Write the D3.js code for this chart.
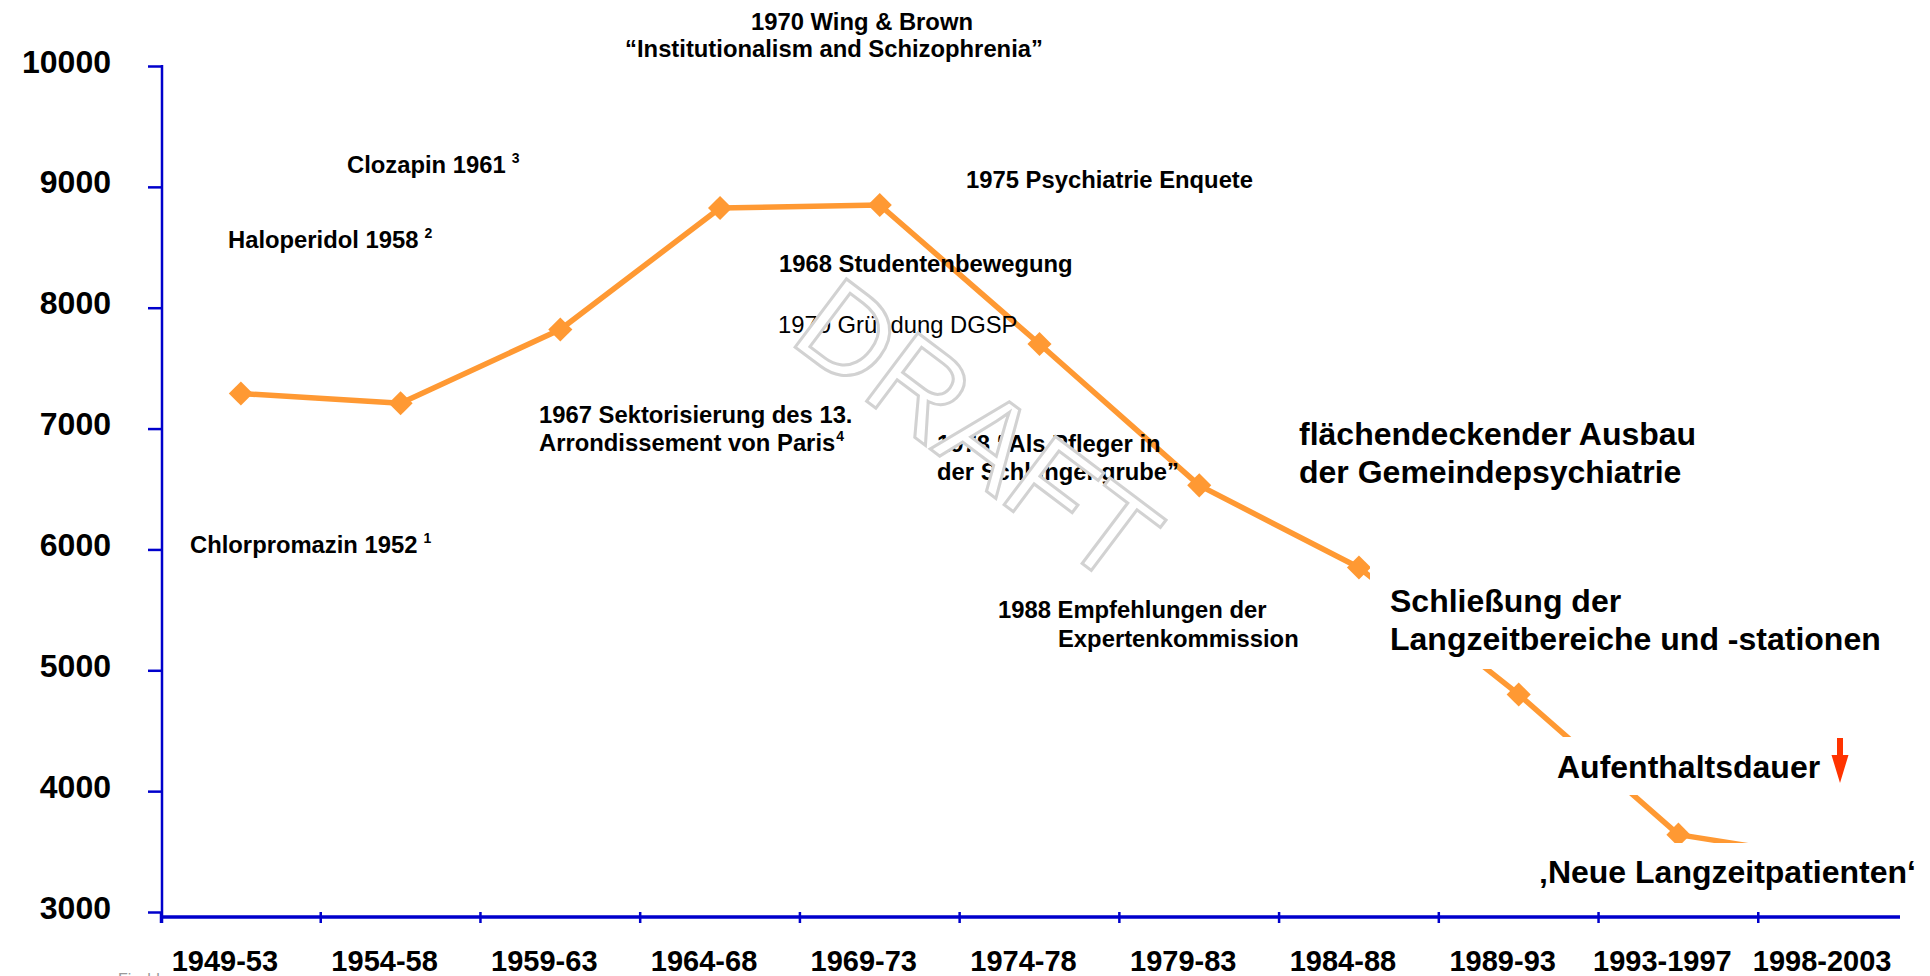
<!DOCTYPE html>
<html>
<head>
<meta charset="utf-8">
<script src="https://cdn.jsdelivr.net/npm/d3@7"></script>
<style>
  body { margin: 0; background: #fff; }
  svg { display: block; font-family: "Liberation Sans", Arial, sans-serif; }
</style>
</head>
<body>
<div id="chart"></div>
<script>
// data
var periods = ["1949-53", "1954-58", "1959-63", "1964-68", "1969-73", "1974-78",
               "1979-83", "1984-88", "1989-93", "1993-1997", "1998-2003"];
var patients = [7290, 7210, 7820, 8825, 8850, 7700, 6530, 5850, 4800, 3640, 3430];
var yTicks = [3000, 4000, 5000, 6000, 7000, 8000, 9000, 10000];

// annotation texts (small)
var notes = [
    { lines: ["1970 Wing & Brown"], x: 862, y: 30, anchor: "middle" },
    { lines: ["\u201CInstitutionalism and Schizophrenia\u201D"], x: 834, y: 57, anchor: "middle" },
    { lines: ["Clozapin 1961"], sup: "3", supGap: true, x: 347, y: 173 },
    { lines: ["Haloperidol 1958"], sup: "2", supGap: true, x: 228, y: 248 },
    { lines: ["Chlorpromazin 1952"], sup: "1", supGap: true, x: 190, y: 553 },
    { lines: ["1967 Sektorisierung des 13.", "Arrondissement von Paris"], sup: "4", x: 539, y: 423 },
    { lines: ["1968 Studentenbewegung"], x: 779, y: 272 },
    { lines: ["1970 Gr\u00FCndung DGSP"], x: 778, y: 333, weight: "normal" },
    { lines: ["1975 Psychiatrie Enquete"], x: 966, y: 188 },
    { lines: ["1978 \u201CAls Pfleger in", "der Schlangengrube\u201D"], x: 937, y: 452 },
    { lines: ["1988 Empfehlungen der"], x: 998, y: 618 },
    { lines: ["Expertenkommission"], x: 1058, y: 647 }
];

// big texts, some sit on white boxes that hide the line
var bigNotes = [
    { lines: ["fl\u00E4chendeckender Ausbau", "der Gemeindepsychiatrie"], x: 1299, y: 445 },
    { lines: ["Schlie\u00DFung der", "Langzeitbereiche und -stationen"], x: 1390, y: 612,
      box: [1370, 540, 540, 129] },
    { lines: ["Aufenthaltsdauer"], x: 1557, y: 778, box: [1545, 737, 290, 58] },
    { lines: ["\u201ANeue Langzeitpatienten\u2018"], x: 1539, y: 883, box: [1530, 843, 395, 55] }
];

var width = 1930, height = 976;
var axisBlue = "#0000cc";
var orange = "#ff9933";

var svg = d3.select("#chart").append("svg")
    .attr("width", width)
    .attr("height", height);

var x = d3.scaleBand().domain(periods).range([161, 1918]);
var y = d3.scaleLinear().domain([3000, 10000]).range([912, 66]);
var xAxisY = 917;

// y axis
var gy = svg.append("g")
    .attr("transform", "translate(162,0)")
    .call(d3.axisLeft(y).tickValues(yTicks).tickSize(14).tickPadding(37).tickFormat(d3.format("d")));
gy.select(".domain").remove();
gy.selectAll(".tick line").attr("stroke", axisBlue).attr("stroke-width", 2.5);
gy.selectAll(".tick text")
    .attr("font-family", "Liberation Sans, Arial, sans-serif")
    .attr("font-size", 32)
    .attr("font-weight", "bold")
    .attr("fill", "#000")
    .attr("dy", 6);
gy.append("line")
    .attr("x1", 0).attr("x2", 0)
    .attr("y1", y(10000) - 1).attr("y2", xAxisY + 6)
    .attr("stroke", axisBlue).attr("stroke-width", 2.5);

// x axis: labels from the band scale, ticks on the band edges
var gx = svg.append("g")
    .attr("transform", "translate(0," + xAxisY + ")")
    .call(d3.axisBottom(x).tickSize(0).tickPadding(33));
gx.select(".domain").remove();
gx.selectAll(".tick text")
    .attr("font-family", "Liberation Sans, Arial, sans-serif")
    .attr("font-size", 29)
    .attr("font-weight", "bold")
    .attr("fill", "#000")
    .attr("dx", -16);
gx.append("line")
    .attr("x1", 161).attr("x2", 1900)
    .attr("y1", 0).attr("y2", 0)
    .attr("stroke", axisBlue).attr("stroke-width", 3.5);
gx.selectAll(".edge")
    .data(periods)
    .enter()
    .append("line")
    .attr("class", "edge")
    .attr("x1", function(d) { return x(d); })
    .attr("x2", function(d) { return x(d); })
    .attr("y1", -5).attr("y2", 6)
    .attr("stroke", axisBlue).attr("stroke-width", 2.5);

// the series
function px(i) { return x(periods[i]) + x.bandwidth() / 2; }

var line = d3.line()
    .x(function(d, i) { return px(i); })
    .y(function(d) { return y(d); });

svg.append("path")
    .datum(patients)
    .attr("d", line)
    .attr("fill", "none")
    .attr("stroke", orange)
    .attr("stroke-width", 5.5)
    .attr("stroke-linejoin", "round");

svg.selectAll(".marker")
    .data(patients)
    .enter()
    .append("path")
    .attr("class", "marker")
    .attr("d", d3.symbol(d3.symbolSquare, 290))
    .attr("transform", function(d, i) { return "translate(" + px(i) + "," + y(d) + ") rotate(45)"; })
    .attr("fill", orange);

// helper to write multi-line text
function writeNote(n, size) {
    var t = svg.append("text")
        .attr("x", n.x)
        .attr("y", n.y)
        .attr("font-size", size)
        .attr("font-weight", n.weight || "bold")
        .attr("fill", "#000")
        .attr("text-anchor", n.anchor || "start");
    n.lines.forEach(function(l, i) {
        t.append("tspan")
            .attr("x", n.x)
            .attr("dy", i === 0 ? 0 : size * 1.18)
            .text(l);
    });
    if (n.sup) {
        t.append("tspan")
            .attr("font-size", 14)
            .attr("dy", -10)
            .attr("dx", n.supGap ? 6 : 1)
            .text(n.sup);
    }
}

notes.forEach(function(n) { writeNote(n, 23.8); });

// DRAFT watermark
svg.append("text")
    .attr("transform", "translate(787,341) rotate(37)")
    .attr("font-size", 124)
    .attr("font-weight", "normal")
    .attr("fill", "#fff")
    .attr("stroke", "#d2d2d2")
    .attr("stroke-width", 3)
    .text("DRAFT");

// white boxes and the big texts
bigNotes.forEach(function(n) {
    if (n.box) {
        svg.append("rect")
            .attr("x", n.box[0]).attr("y", n.box[1])
            .attr("width", n.box[2]).attr("height", n.box[3])
            .attr("fill", "#fff");
    }
    writeNote(n, 32);
});

// red arrow next to Aufenthaltsdauer
svg.append("path")
    .attr("d", "M1837,738 L1843,738 L1843,755 L1848.5,755 L1840,783 L1831.5,755 L1837,755 Z")
    .attr("fill", "#ff3300");

// cut-off source note at the bottom
svg.append("text")
    .attr("x", 118)
    .attr("y", 985)
    .attr("font-size", 16)
    .attr("fill", "#999")
    .text("Fischl");
</script>
</body>
</html>
